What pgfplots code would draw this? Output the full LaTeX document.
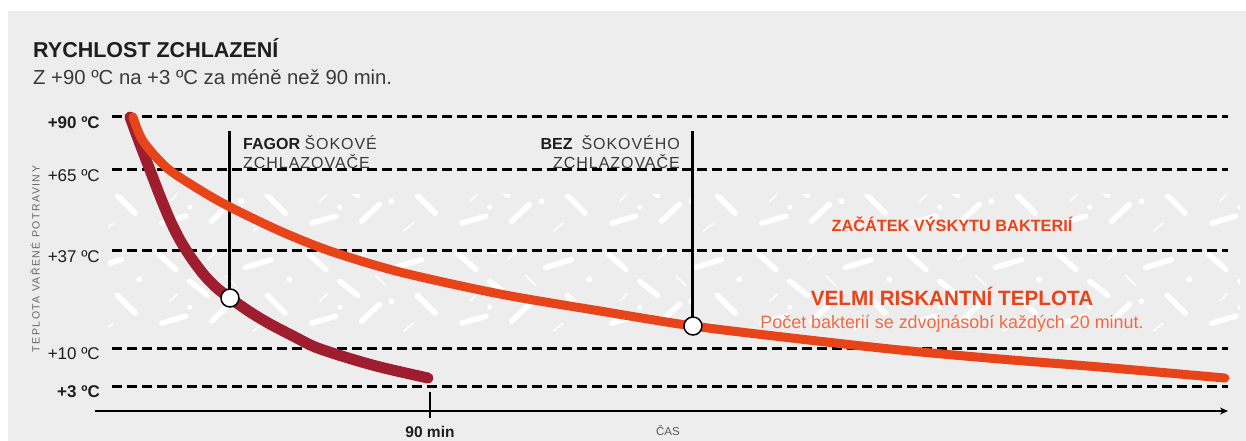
\documentclass[border=0pt]{standalone}
\usepackage{fontspec}
\setmainfont{Liberation Sans}
\newfontfamily\spaced[LetterSpace=6]{Liberation Sans}
\newfontfamily\widespaced[LetterSpace=14]{Liberation Sans}
\usepackage{pgfplots}
\pgfplotsset{compat=1.18}
\usetikzlibrary{patterns,arrows.meta}
\definecolor{bg}{HTML}{EDEDED}
\definecolor{darkred}{HTML}{9E1E2F}
\definecolor{orng}{HTML}{E8441A}
\definecolor{lorng}{HTML}{EE6B45}
\definecolor{txt}{HTML}{1E1E1E}
\definecolor{lighttxt}{HTML}{3A3A3A}

\pgfdeclarepatternformonly{bact}{\pgfqpoint{0pt}{0pt}}{\pgfqpoint{150pt}{100pt}}{\pgfqpoint{150pt}{100pt}}{%
  \pgfsetroundcap
  \pgfsetlinewidth{5.5pt}
  \pgfpathmoveto{\pgfqpoint{8pt}{88pt}}\pgfpathlineto{\pgfqpoint{26pt}{72pt}}
  \pgfpathmoveto{\pgfqpoint{62pt}{20pt}}\pgfpathlineto{\pgfqpoint{80pt}{37pt}}
  \pgfpathmoveto{\pgfqpoint{96pt}{74pt}}\pgfpathlineto{\pgfqpoint{122pt}{82pt}}
  \pgfpathmoveto{\pgfqpoint{12pt}{18pt}}\pgfpathlineto{\pgfqpoint{36pt}{25pt}}
  \pgfpathmoveto{\pgfqpoint{118pt}{46pt}}\pgfpathlineto{\pgfqpoint{136pt}{28pt}}
  \pgfpathmoveto{\pgfqpoint{40pt}{60pt}}\pgfpathlineto{\pgfqpoint{58pt}{46pt}}
  \pgfusepath{stroke}
  \pgfsetlinewidth{1.5pt}
  \pgfpathmoveto{\pgfqpoint{76pt}{66pt}}\pgfpathlineto{\pgfqpoint{86pt}{56pt}}
  \pgfpathmoveto{\pgfqpoint{104pt}{10pt}}\pgfpathlineto{\pgfqpoint{114pt}{18pt}}
  \pgfpathmoveto{\pgfqpoint{58pt}{82pt}}\pgfpathlineto{\pgfqpoint{67pt}{90pt}}
  \pgfpathmoveto{\pgfqpoint{20pt}{40pt}}\pgfpathlineto{\pgfqpoint{28pt}{48pt}}
  \pgfusepath{stroke}
  \pgfpathcircle{\pgfqpoint{44pt}{90pt}}{3pt}
  \pgfpathcircle{\pgfqpoint{140pt}{62pt}}{3pt}
  \pgfpathcircle{\pgfqpoint{40pt}{34pt}}{2.5pt}
  \pgfpathcircle{\pgfqpoint{92pt}{40pt}}{3pt}
  \pgfusepath{fill}
}

\begin{document}
\begin{tikzpicture}[x=1pt,y=1pt]
\useasboundingbox (0,0) rectangle (1246,441);
\fill[white] (0,0) rectangle (1246,441);
\fill[bg] (8,0) rectangle (1246,430);
\fill[pattern=bact, pattern color=white] (108,96) rectangle (1240,246);

\node[anchor=base west, font=\fontsize{21.5}{25}\selectfont\bfseries, text=txt, inner sep=0] at (33,383) {RYCHLOST ZCHLAZENÍ};
\node[anchor=base west, font=\fontsize{20.3}{23}\selectfont, text=lighttxt, inner sep=0] at (33,356) {Z +90 ºC na +3 ºC za méně než 90 min.};
\node[rotate=90, font=\widespaced\fontsize{10.5}{12}\selectfont, text=black!60, inner sep=0] at (35,182) {TEPLOTA VAŘENÉ POTRAVINY};

\begin{axis}[
  at={(95pt,30pt)}, anchor=south west,
  scale only axis, width=1133pt, height=294pt,
  xmin=-9.83, xmax=327.8, ymin=-1.605, ymax=90,
  y coord trafo/.code={\pgfmathparse{#1<=10 ? 55+(#1-3)*5.42857 : (#1<=37 ? 93+(#1-10)*3.59259 : (#1<=65 ? 190+(#1-37)*2.89286 : 271+(#1-65)*2.12))}},
  axis x line=bottom, axis y line=left,
  y axis line style={draw=none},
  x axis line style={line width=1.5pt, -{Stealth[length=8pt,width=7pt]}},
  major tick length=0pt,
  ytick={3,10,37,65,90},
  yticklabels={\textbf{+3 ºC},+10 ºC,+37 ºC,+65 ºC,\textbf{+90 ºC}},
  yticklabel style={font=\fontsize{17}{19}\selectfont, text=txt, anchor=east, inner sep=0pt, xshift=5pt, yshift=-5.5pt},
  xtick={90}, xticklabels={\textbf{90 min}},
  xticklabel style={font=\fontsize{15.5}{17}\selectfont, text=txt, anchor=base, inner sep=0pt, yshift=-26pt},
  tick style={draw=none},
  clip=false,
]
% dashed reference lines
\addplot[black, line width=3pt, dash pattern=on 10pt off 5pt] coordinates {(-4.77,90) (327.8,90)};
\addplot[black, line width=3pt, dash pattern=on 10pt off 5pt] coordinates {(-4.77,65) (327.8,65)};
\addplot[black, line width=3pt, dash pattern=on 10pt off 5pt] coordinates {(-4.77,37) (327.8,37)};
\addplot[black, line width=3pt, dash pattern=on 10pt off 5pt] coordinates {(-4.77,10) (327.8,10)};
\addplot[black, line width=3pt, dash pattern=on 10pt off 5pt] coordinates {(-4.77,3) (327.8,3)};
% 90 min tick
\addplot[black, line width=1.8pt] coordinates {(90,1.9) (90,-2.9)};
% vertical markers
\addplot[black, line width=3pt] coordinates {(30.39,83.4) (30.39,23.92)};
\addplot[black, line width=3pt] coordinates {(168.36,83.4) (168.36,16.12)};
% blast chiller curve
\addplot[darkred, line width=11pt, smooth, line cap=round] coordinates {
 (0.60,90) (3.58,77.26) (6.56,65) (9.54,56.01) (12.51,47.72) (15.49,40.80) (19.07,34.77) (22.94,30.04) (26.82,26.42) (30.39,23.92) (36.35,20.02) (42.31,16.68) (49.76,13.06) (55.72,10.28) (64.66,8.34) (75.09,6.50) (89.39,4.47)};
% without blast chiller
\addplot[orng, line width=9pt, smooth, line cap=round] coordinates {
 (1.49,90) (4.47,78.68) (11.62,65.94) (21.45,58.09) (30.39,52.21) (45.29,43.91) (60.19,37) (81.05,31.15) (110.85,25.03) (140.64,20.30) (168.36,16.12) (200.24,12.51) (230.04,9.63) (259.83,7.97) (289.63,6.50) (326.88,4.47)};
% circles
\addplot[only marks, mark=*, mark size=9pt, mark options={fill=white, draw=black, line width=1.5pt}] coordinates {(30.39,23.92) (168.36,16.12)};
\end{axis}

\node[anchor=base west, inner sep=0, font=\fontsize{16}{18}\selectfont, text=lighttxt] at (243,291) {\textbf{\color{txt}FAGOR} {\spaced ŠOKOVÉ}};
\node[anchor=base west, inner sep=0, font=\spaced\fontsize{16}{18}\selectfont, text=lighttxt] at (243,272) {ZCHLAZOVAČE};
\node[anchor=base east, inner sep=0, font=\fontsize{16}{18}\selectfont, text=lighttxt] at (680,291) {\textbf{\color{txt}BEZ}\ \ {\spaced ŠOKOVÉHO}};
\node[anchor=base east, inner sep=0, font=\spaced\fontsize{16}{18}\selectfont, text=lighttxt] at (680,272) {ZCHLAZOVAČE};

\node[anchor=base, inner sep=0, font=\fontsize{16.3}{19}\selectfont\bfseries, text=orng] at (952,209) {ZAČÁTEK VÝSKYTU BAKTERIÍ};
\node[anchor=base, inner sep=0, font=\fontsize{20.7}{24}\selectfont\bfseries, text=orng] at (952,135) {VELMI RISKANTNÍ TEPLOTA};
\node[anchor=base, inner sep=0, font=\fontsize{17.9}{21}\selectfont, text=lorng] at (952,112) {Počet bakterií se zdvojnásobí každých 20 minut.};
\node[anchor=base, inner sep=0, font=\fontsize{11.5}{13}\selectfont, text=black!65] at (668,5) {ČAS};
\end{tikzpicture}
\end{document}
